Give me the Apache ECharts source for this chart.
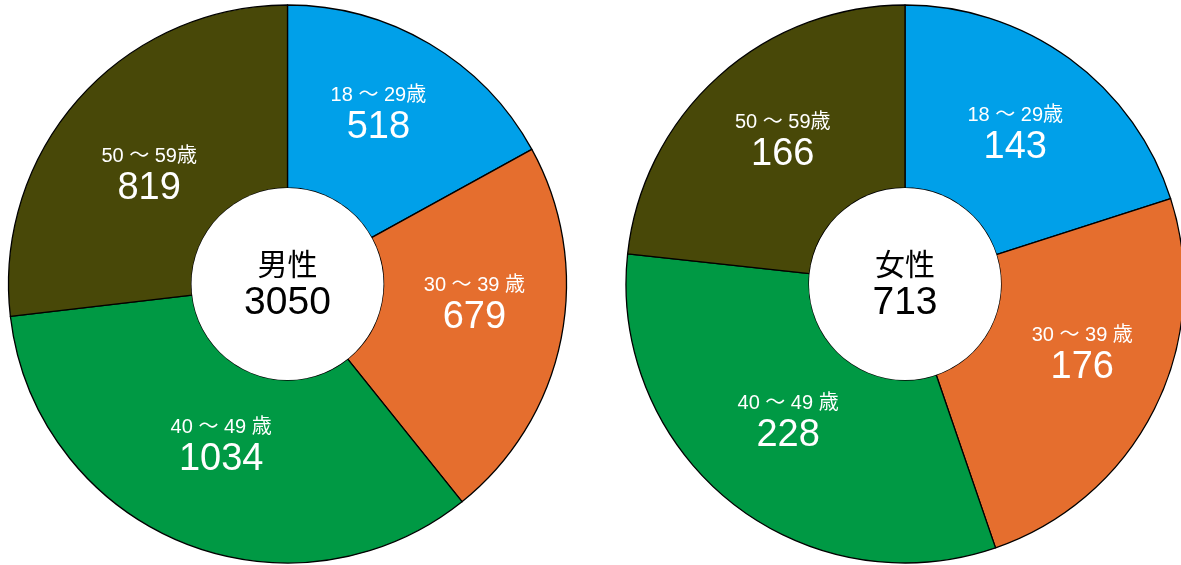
<!DOCTYPE html>
<html>
<head>
<meta charset="utf-8">
<script src="https://cdn.jsdelivr.net/npm/echarts@6/dist/echarts.min.js"></script>
<style>
  html, body { margin: 0; padding: 0; background: #fff; }
  #chart { width: 1181px; height: 565px; }
</style>
</head>
<body>
<div id="chart"></div>
<script>
// age groups and counts
const ageGroups = ['18 ～ 29歳', '30 ～ 39 歳', '40 ～ 49 歳', '50 ～ 59歳']
const maleCounts = [518, 679, 1034, 819]
const femaleCounts = [143, 176, 228, 166]
const genders = ['男性', '女性']

const sliceColors = ['#00a0e9', '#e56e2e', '#009944', '#484808']
const font = "'Liberation Sans', 'Noto Sans CJK JP', sans-serif"

// small hand nudges of the slice labels, like the original layout
const maleLabelNudge = [[-6, -4], [0, -16], [6, -13], [4, 19]]
const femaleLabelNudge = [[-2, 5], [7, -14], [2, -9], [5, 0]]

const chart = echarts.init(document.getElementById('chart'))

// one donut = the slices + a white disc on top that carries the total
const donut = (gender, counts, center, nudge) => {
  const total = counts.reduce((a, b) => a + b, 0)
  return [
    {
      type: 'pie',
      center: center,
      radius: [96, 279],
      startAngle: 90,
      clockwise: true,
      silent: true,
      itemStyle: { borderColor: '#000', borderWidth: 1.3 },
      label: {
        show: true,
        position: 'inside',
        fontFamily: font,
        formatter: p => `{a|${p.name}}\n{v|${p.value}}`,
        rich: {
          a: { color: '#fff', fontSize: 20, lineHeight: 24, fontFamily: font },
          v: { color: '#fff', fontSize: 38, lineHeight: 40, fontFamily: font }
        }
      },
      labelLine: { show: false },
      data: counts.map((v, i) => ({
        value: v,
        name: ageGroups[i],
        itemStyle: { color: sliceColors[i] },
        label: { offset: nudge[i] }
      }))
    },
    {
      type: 'pie',
      center: center,
      radius: [0, 96],
      silent: true,
      emphasis: { disabled: true },
      itemStyle: { color: '#fff', borderWidth: 0 },
      label: {
        show: true,
        position: 'center',
        offset: [0, 2],
        formatter: `{g|${gender}}\n{t|${total}}`,
        rich: {
          g: { color: '#000', fontSize: 30, lineHeight: 34, fontFamily: font },
          t: { color: '#000', fontSize: 39, lineHeight: 38, fontFamily: font }
        }
      },
      labelLine: { show: false },
      data: [{ value: 1, name: gender }]
    }
  ]
}

chart.setOption({
  animation: false,
  series: [
    ...donut(genders[0], maleCounts, [287.5, 284], maleLabelNudge),
    ...donut(genders[1], femaleCounts, [905, 284], femaleLabelNudge)
  ]
})
</script>
</body>
</html>
